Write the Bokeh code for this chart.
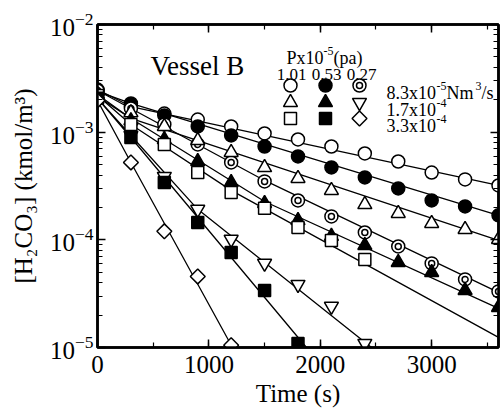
import numpy as np
from bokeh.plotting import figure
from bokeh.models import LinearAxis, LogAxis, Range1d, SingleIntervalTicker, LogTicker, CustomJSTickFormatter
from bokeh.embed import file_html
from bokeh.resources import INLINE
from bokeh.core.properties import value

# ---------------- data ----------------
time_s = [0, 300, 600, 900, 1200, 1500, 1800, 2100, 2400, 2700, 3000, 3300, 3600]

# gas flow 8.3e-5 Nm3/s
c_101_83 = [2.49e-3, 1.73e-3, 1.49e-3, 1.31e-3, 1.13e-3, 9.73e-4, 8.55e-4, 7.36e-4, 6.34e-4, 5.34e-4, 4.22e-4, 3.64e-4, 3.20e-4]
c_053_83 = [2.39e-3, 1.85e-3, 1.43e-3, 1.13e-3, 9.32e-4, 7.36e-4, 5.95e-4, 4.70e-4, 3.80e-4, 3.00e-4, 2.32e-4, 2.04e-4, 1.69e-4]
c_027_83 = [2.44e-3, 1.66e-3, 1.18e-3, 7.69e-4, 5.23e-4, 3.49e-4, 2.32e-4, 1.65e-4, 1.17e-4, 8.68e-5, 6.04e-5, 4.29e-5, 3.32e-5]
# gas flow 1.7e-4
c_101_17 = [2.24e-3, 1.52e-3, 1.13e-3, 8.37e-4, 6.48e-4, 4.70e-4, 3.72e-4, 2.88e-4, 2.13e-4, 1.76e-4, 1.42e-4, 1.25e-4, 1.01e-4]
c_053_17 = [2.15e-3, 1.28e-3, 8.55e-4, 5.34e-4, 3.41e-4, 2.18e-4, 1.51e-4, 1.08e-4, 8.87e-5, 6.17e-5, 4.98e-5, 3.39e-5, 2.36e-5]
c_027_17 = [2.06e-3, 9.32e-4, 3.88e-4, 1.92e-4, 1.01e-4, 6.04e-5, 3.85e-5, 2.41e-5, 1.09e-5]
# gas flow 3.3e-4
c_101_33 = [2.19e-3, 1.18e-3, 7.69e-4, 4.22e-4, 2.75e-4, 1.96e-4, 1.30e-4, 9.87e-5, 6.58e-5]
c_053_33 = [2.06e-3, 8.93e-4, 3.41e-4, 1.45e-4, 7.64e-5, 3.39e-5, 1.09e-5]
c_027_33 = [1.97e-3, 5.23e-4, 1.20e-4, 4.57e-5, 1.05e-5]

# model curves (knots)
fit_t_101_83 = [0, 300, 3600];        fit_c_101_83 = [2.49e-3, 1.73e-3, 3.20e-4]
fit_t_053_83 = [0, 300, 3600];        fit_c_053_83 = [2.39e-3, 1.85e-3, 1.69e-4]
fit_t_027_83 = [0, 300, 1500, 3600];  fit_c_027_83 = [2.44e-3, 1.66e-3, 3.56e-4, 3.25e-5]
fit_t_101_17 = [0, 300, 3600];        fit_c_101_17 = [2.24e-3, 1.34e-3, 9.87e-5]
fit_t_053_17 = [0, 300, 1500, 3600];  fit_c_053_17 = [2.15e-3, 1.34e-3, 2.27e-4, 2.31e-5]
fit_t_027_17 = [0, 300, 900, 2460];   fit_c_027_17 = [2.06e-3, 9.32e-4, 1.92e-4, 1.0e-5]
fit_t_101_33 = [0, 300, 1200, 3600];  fit_c_101_33 = [2.19e-3, 1.18e-3, 2.88e-4, 1.24e-5]
fit_t_053_33 = [0, 300, 1876];        fit_c_053_33 = [2.06e-3, 8.93e-4, 1.0e-5]
fit_t_027_33 = [0, 300, 1212];        fit_c_027_33 = [1.97e-3, 5.23e-4, 1.0e-5]

pressure_labels = ["1.01", "0.53", "0.27"]
flow_labels = ["8.3x10", "1.7x10", "3.3x10"]
flow_exps = ["-5", "-4", "-4"]

X_MAX = 3600
Y_MIN, Y_MAX = 1e-5, 1e-2

FONT = "Liberation Serif"
LW = 1.5

# ---------------- figure ----------------
p = figure(frame_width=401, frame_height=323,
           x_range=Range1d(0, X_MAX), y_range=Range1d(Y_MIN, Y_MAX),
           y_axis_type="log", output_backend="svg", toolbar_location=None,
           min_border_left=97, min_border_right=2, min_border_top=24, min_border_bottom=52,
           background_fill_color="white", border_fill_color="white")
p.xgrid.visible = False
p.ygrid.visible = False
p.outline_line_color = "black"
p.outline_line_width = 2.5

blank = CustomJSTickFormatter(code="return ''")


def style_axis(ax, show_labels=True):
    ax.axis_line_color = "black"
    ax.axis_line_width = 2.5
    ax.major_tick_line_color = "black"
    ax.minor_tick_line_color = "black"
    ax.major_tick_line_width = 1.5
    ax.minor_tick_line_width = 1.2
    ax.major_tick_in = 8
    ax.major_tick_out = 0
    ax.minor_tick_in = 5
    ax.minor_tick_out = 0
    ax.major_label_text_font = FONT
    ax.major_label_text_color = "black"
    ax.axis_label_text_font = FONT
    ax.axis_label_text_font_style = "normal"
    ax.axis_label_text_color = "black"
    if not show_labels:
        ax.formatter = blank
        ax.major_label_text_font_size = "2px"
        ax.major_label_standoff = 0


p.xaxis.ticker = SingleIntervalTicker(interval=1000, num_minor_ticks=2)
p.yaxis.ticker = LogTicker(num_minor_ticks=10)
for ax in p.xaxis + p.yaxis:
    style_axis(ax)
p.xaxis.major_label_text_font_size = "25px"
p.yaxis.major_label_text_font_size = "25px"
p.xaxis.axis_label = "Time (s)"
p.yaxis.axis_label = "[H\u2082CO\u2083] (kmol/m\u00b3)"
p.xaxis.axis_label_text_font_size = "25px"
p.yaxis.axis_label_text_font_size = "25px"
p.xaxis.major_label_standoff = 8
p.yaxis.major_label_standoff = 4
p.xaxis.axis_label_standoff = 4
p.yaxis.axis_label_standoff = 10

top = LinearAxis(ticker=SingleIntervalTicker(interval=1000, num_minor_ticks=2))
style_axis(top, show_labels=False)
p.add_layout(top, "above")
right = LogAxis(ticker=LogTicker(num_minor_ticks=10))
style_axis(right, show_labels=False)
p.add_layout(right, "right")

# ---------------- model curves ----------------
for ft, fc in [(fit_t_101_83, fit_c_101_83), (fit_t_053_83, fit_c_053_83), (fit_t_027_83, fit_c_027_83),
               (fit_t_101_17, fit_c_101_17), (fit_t_053_17, fit_c_053_17), (fit_t_027_17, fit_c_027_17),
               (fit_t_101_33, fit_c_101_33), (fit_t_053_33, fit_c_053_33), (fit_t_027_33, fit_c_027_33)]:
    p.line(ft, fc, line_color="black", line_width=1.3)

# ---------------- markers ----------------
STYLES = {
    "open_circle": dict(marker="circle", size=13, fill_color="white"),
    "filled_circle": dict(marker="circle", size=13, fill_color="black"),
    "double_circle": dict(marker="circle", size=13, fill_color="white"),
    "open_tri": dict(marker="triangle", size=14, fill_color="white"),
    "filled_tri": dict(marker="triangle", size=14, fill_color="black"),
    "open_itri": dict(marker="inverted_triangle", size=14, fill_color="white"),
    "open_sq": dict(marker="square", size=12, fill_color="white"),
    "filled_sq": dict(marker="square", size=12, fill_color="black"),
    "open_dia": dict(marker="square", size=10.5, fill_color="white", angle=np.pi / 4),
}


def draw(xs, ys, style):
    st = STYLES[style]
    p.scatter(xs, ys, line_color="black", line_width=LW, **st)
    if style == "double_circle":
        p.scatter(xs, ys, marker="circle", size=6, fill_color="white", line_color="black", line_width=LW)


series = [
    (c_101_83, "open_circle"), (c_053_83, "filled_circle"), (c_027_83, "double_circle"),
    (c_101_17, "open_tri"), (c_053_17, "filled_tri"), (c_027_17, "open_itri"),
    (c_101_33, "open_sq"), (c_053_33, "filled_sq"), (c_027_33, "open_dia"),
]
for vals, st in series:
    draw(time_s[:len(vals)], vals, st)

# ---------------- legend (placed in screen px converted to data) ----------------
FX0, FY0, FW, FH = 98, 22, 401, 323


def X(px):
    return (px - FX0) / FW * X_MAX


def Y(py):
    return 10 ** (np.log10(Y_MAX) - (py - FY0) / FH * (np.log10(Y_MAX) - np.log10(Y_MIN)))


def txt(px, py, s, size, align="left"):
    p.text(x=[X(px)], y=[Y(py)], text=[s], text_font=value(FONT), text_font_size=size,
           text_align=align, text_baseline="alphabetic", text_color="black")


txt(151, 63, "Vessel B", "27px")
txt(287, 55, "Px10", "18px")
txt(324, 48, "-5", "12px")
txt(334, 55, "(pa)", "18px")

cols = [291, 326, 360]
rows = [83, 100, 116]
label_cx = [292, 327, 362]
for cx, lab in zip(label_cx, pressure_labels):
    txt(cx, 72, lab, "17px", align="center")

grid_styles = [["open_circle", "filled_circle", "double_circle"],
               ["open_tri", "filled_tri", "open_itri"],
               ["open_sq", "filled_sq", "open_dia"]]
for r, row_styles in enumerate(grid_styles):
    for c, st in enumerate(row_styles):
        draw([X(cols[c])], [Y(rows[r])], st)

for r, (lab, ex) in enumerate(zip(flow_labels, flow_exps)):
    base = rows[r] + 7
    txt(387, base, lab, "18px")
    txt(437, base - 7, ex, "12px")
txt(447, rows[0] + 7, "Nm", "18px")
txt(476, rows[0], "3", "12px")
txt(482, rows[0] + 7, "/s", "18px")

open("out.html", "w").write(file_html(p, INLINE))
